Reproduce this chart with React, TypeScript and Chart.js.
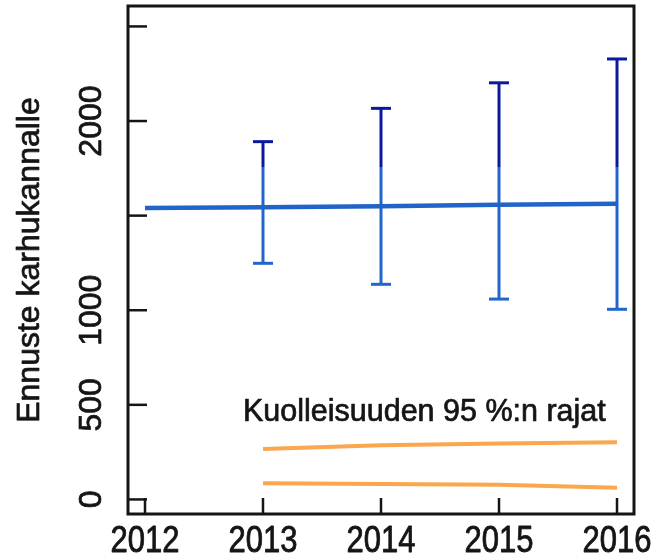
import React, { useEffect, useRef } from "react";
import { Chart, registerables } from "chart.js";

Chart.register(...registerables);

// ---- data ----
const years = [2012, 2013, 2014, 2015, 2016];
const forecast = [1540, 1544, 1550, 1557, 1563];
const ciYears = [2013, 2014, 2015, 2016];
const ciUpper = [1891, 2067, 2202, 2328];
const ciLower = [1248, 1137, 1059, 1005];
const ciSplit = 1757; // where the bar colour changes from light to dark blue
const mortYears = [2013, 2014, 2015, 2016];
const mortUpper = [266, 287, 296, 302];
const mortLower = [86, 82, 77, 62];
const yTicks = [0, 500, 1000, 1500, 2000, 2500];
const yTickLabels = ["0", "500", "1000", "", "2000", ""];
const xTicks = [2012, 2013, 2014, 2015, 2016];
const xTickLabels = ["2012", "2013", "2014", "2015", "2016"];
const yTitle = "Ennuste karhukannalle";
const annotationText = "Kuolleisuuden 95 %:n rajat";
const annotationPos = { x: 2012.83, y: 415 };

const BLUE = "#2163c9";
const BLUE_LIGHT = "#2266cc";
const BLUE_DARK = "#0b1a9c";
const ORANGE = "#fca64e";
const INK = "#151515";
const FONT = "'Liberation Sans', Arial, sans-serif";

function heavyText(ctx: CanvasRenderingContext2D, s: string, x: number, y: number) {
  ctx.fillText(s, x, y);
  ctx.strokeText(s, x, y);
}

const framePlugin = {
  id: "frame",
  afterDatasetsDraw(chart: any) {
    const { ctx, chartArea: ca, scales } = chart;
    const x = scales.x;
    const y = scales.y;
    ctx.save();
    // box
    ctx.strokeStyle = INK;
    ctx.lineWidth = 3;
    ctx.strokeRect(ca.left, ca.top, ca.right - ca.left, ca.bottom - ca.top);
    // y ticks (inward)
    ctx.lineWidth = 2.5;
    yTicks.forEach((v) => {
      const py = y.getPixelForValue(v);
      ctx.beginPath();
      ctx.moveTo(ca.left, py);
      ctx.lineTo(ca.left + 19, py);
      ctx.stroke();
    });
    // x ticks (inward)
    xTicks.forEach((v) => {
      const px = x.getPixelForValue(v);
      ctx.beginPath();
      ctx.moveTo(px, ca.bottom);
      ctx.lineTo(px, ca.bottom - 16);
      ctx.stroke();
    });
    ctx.fillStyle = INK;
    ctx.lineWidth = 0.7;
    ctx.lineJoin = "round";
    // y tick labels, rotated
    ctx.font = `32px ${FONT}`;
    ctx.textAlign = "center";
    ctx.textBaseline = "alphabetic";
    yTicks.forEach((v, i) => {
      const lbl = yTickLabels[i];
      if (!lbl) return;
      const py = y.getPixelForValue(v);
      ctx.save();
      ctx.translate(ca.left - 27, py);
      ctx.rotate(-Math.PI / 2);
      heavyText(ctx, lbl, 0, 0);
      ctx.restore();
    });
    // x tick labels
    ctx.font = `31px ${FONT}`;
    xTicks.forEach((v, i) => {
      const px = x.getPixelForValue(v);
      ctx.save();
      ctx.translate(px, ca.bottom + 38);
      ctx.scale(1, 1.2);
      heavyText(ctx, xTickLabels[i], 0, 0);
      ctx.restore();
    });
    // y title
    ctx.font = `32px ${FONT}`;
    ctx.save();
    ctx.translate(39, 260);
    ctx.rotate(-Math.PI / 2);
    heavyText(ctx, yTitle, 0, 0);
    ctx.restore();
    // annotation
    ctx.font = `30.5px ${FONT}`;
    ctx.textAlign = "left";
    heavyText(
      ctx,
      annotationText,
      x.getPixelForValue(annotationPos.x),
      y.getPixelForValue(annotationPos.y)
    );
    ctx.restore();
  },
};

export default function App() {
  const ref = useRef<HTMLCanvasElement | null>(null);

  useEffect(() => {
    if (!ref.current) return;
    const lineDs = (xs: number[], ys: number[], color: string, width: number) => ({
      data: xs.map((xv, i) => ({ x: xv, y: ys[i] })),
      showLine: true,
      borderColor: color,
      borderWidth: width,
      pointRadius: 0,
      fill: false,
      tension: 0,
    });
    const errDs = ciYears.flatMap((yr, i) => [
      {
        data: [
          { x: yr, y: ciLower[i] },
          { x: yr, y: ciSplit },
        ],
        showLine: true,
        borderColor: BLUE_LIGHT,
        borderWidth: 3,
        pointStyle: "line",
        pointRadius: [10, 0],
        pointBorderColor: BLUE_LIGHT,
        pointBorderWidth: 3,
        pointBackgroundColor: BLUE_LIGHT,
      },
      {
        data: [
          { x: yr, y: ciSplit },
          { x: yr, y: ciUpper[i] },
        ],
        showLine: true,
        borderColor: BLUE_DARK,
        borderWidth: 3,
        pointStyle: "line",
        pointRadius: [0, 10],
        pointBorderColor: BLUE_DARK,
        pointBorderWidth: 3,
        pointBackgroundColor: BLUE_DARK,
      },
    ]);
    const chart = new Chart(ref.current, {
      type: "scatter",
      data: {
        datasets: [
          lineDs(mortYears, mortUpper, ORANGE, 4),
          lineDs(mortYears, mortLower, ORANGE, 4),
          lineDs(years, forecast, BLUE, 4.5),
          ...errDs,
        ] as any,
      },
      options: {
        responsive: false,
        animation: false,
        events: [],
        layout: { autoPadding: false, padding: { left: 128, right: 22, top: 6, bottom: 46 } },
        plugins: { legend: { display: false }, tooltip: { enabled: false } },
        scales: {
          x: { type: "linear", min: 2011.856, max: 2016.144, display: false },
          y: { type: "linear", min: -77, max: 2608, display: false },
        },
      },
      plugins: [framePlugin],
    });
    return () => chart.destroy();
  }, []);

  return (
    <div style={{ position: "absolute", left: 0, top: 0, width: 656, height: 560, background: "#fff" }}>
      <canvas ref={ref} width={656} height={560} style={{ display: "block" }} />
    </div>
  );
}
